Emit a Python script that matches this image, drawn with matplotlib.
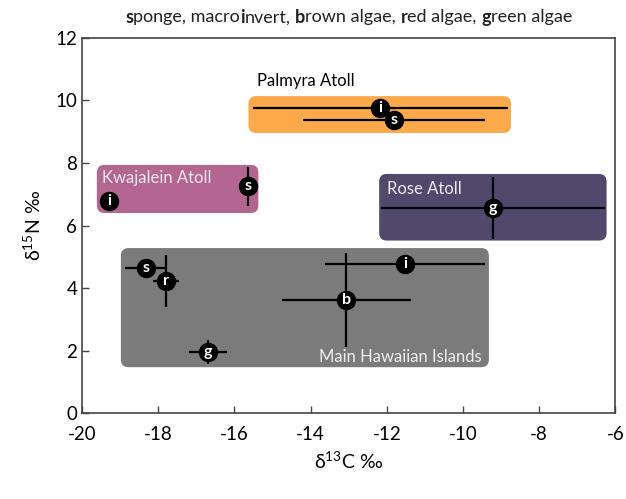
import matplotlib
matplotlib.use('Agg')
import matplotlib.pyplot as plt
from matplotlib.patches import FancyBboxPatch

plt.rcParams['font.family'] = ['Lato', 'DejaVu Sans']
plt.rcParams['mathtext.fontset'] = 'custom'
plt.rcParams['mathtext.rm'] = 'Lato'
plt.rcParams['axes.unicode_minus'] = False

# data points: letter, d13C, d15N, x error, y error
letters = ['i', 's', 'i', 's', 'g', 's', 'r', 'g', 'b', 'i']
d13c = [-12.17, -11.81, -19.29, -15.65, -9.21, -18.32, -17.80, -16.70, -13.06, -11.52]
d15n = [9.76, 9.38, 6.78, 7.26, 6.56, 4.64, 4.22, 1.95, 3.62, 4.77]
d13c_err = [3.35, 2.40, 0.10, 0.0, 2.95, 0.55, 0.34, 0.50, 1.70, 2.10]
d15n_err = [0.0, 0.0, 0.0, 0.62, 1.00, 0.30, 0.83, 0.38, 1.50, 0.30]

# region boxes
regions = ['Palmyra Atoll', 'Kwajalein Atoll', 'Rose Atoll', 'Main Hawaiian Islands']
reg_x0 = [-15.63, -19.61, -12.20, -18.98]
reg_x1 = [-8.74, -15.37, -6.23, -9.32]
reg_y0 = [8.96, 6.40, 5.52, 1.47]
reg_y1 = [10.14, 7.94, 7.65, 5.28]
reg_colors = ['#FBA94A', '#B36790', '#51496C', '#7B7B7B']

# title pieces (text, bold?)
title_parts = [('s', True), ('ponge, macro', False), ('i', True), ('nvert, ', False),
               ('b', True), ('rown algae, ', False), ('r', True), ('ed algae, ', False),
               ('g', True), ('reen algae', False)]

fig = plt.figure(figsize=(6.26, 4.99), dpi=100)
ax = fig.add_axes([0.131, 0.172, 0.852, 0.752])

for i in range(len(regions)):
    box = FancyBboxPatch((reg_x0[i], reg_y0[i]), reg_x1[i] - reg_x0[i], reg_y1[i] - reg_y0[i],
                         boxstyle='round,pad=0,rounding_size=0.2', mutation_aspect=1.22,
                         facecolor=reg_colors[i], edgecolor='none', zorder=1)
    ax.add_patch(box)

# region labels
ax.text(-15.4, 10.62, 'Palmyra Atoll', fontsize=12, color='black', va='center', ha='left')
ax.text(-19.48, 7.52, 'Kwajalein Atoll', fontsize=12, color='#F3E6EC', va='center', ha='left')
ax.text(-11.99, 7.17, 'Rose Atoll', fontsize=12, color='#ECEAF2', va='center', ha='left')
ax.text(-9.5, 1.79, 'Main Hawaiian Islands', fontsize=12, color='#EEEEEE', va='center', ha='right')

for i in range(len(letters)):
    ax.errorbar(d13c[i], d15n[i], xerr=d13c_err[i], yerr=d15n_err[i], fmt='none',
                ecolor='black', elinewidth=1.6, capsize=0, zorder=2)
    ax.plot(d13c[i], d15n[i], 'o', color='black', markersize=13, zorder=3)
    ax.text(d13c[i], d15n[i], letters[i], color='white', fontsize=11.5, fontweight='bold',
            ha='center', va='center', zorder=4)

ax.set_xlim(-20, -6)
ax.set_ylim(0, 12)
ax.set_xticks(range(-20, -5, 2))
ax.set_yticks(range(0, 13, 2))
ax.tick_params(axis='both', direction='in', labelsize=13.5, length=5, width=1, color='#444444')
ax.tick_params(axis='x', pad=9)
for s in ax.spines.values():
    s.set_color('#444444')
    s.set_linewidth(1.2)

ax.set_xlabel(r'δ$^{13}$C ‰', fontsize=14, labelpad=5)
ax.set_ylabel(r'δ$^{15}$N ‰', fontsize=14, labelpad=8)

# title built from pieces so single letters can be bold
renderer = fig.canvas.get_renderer()
probe1 = fig.text(0, 0, 'a a', fontsize=13)
probe2 = fig.text(0, 0, 'aa', fontsize=13)
space_w = (probe1.get_window_extent(renderer).width
           - probe2.get_window_extent(renderer).width) / fig.bbox.width
probe1.remove()
probe2.remove()

pieces = []
x = 0.0
for txt, bold in title_parts:
    t = fig.text(x, 0.965, txt.rstrip(), fontsize=13, fontweight='bold' if bold else 'normal',
                 ha='left', va='center', color='#222222')
    pieces.append(t)
    x += t.get_window_extent(renderer).width / fig.bbox.width
    if txt.endswith(' '):
        x += space_w
x_start = 0.557 - x / 2
for t in pieces:
    t.set_x(t.get_position()[0] + x_start)

fig.savefig('out.png', dpi=100)
